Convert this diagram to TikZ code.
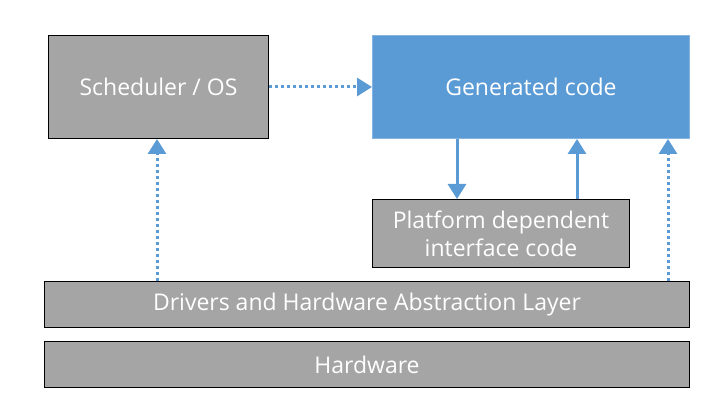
\documentclass[tikz,border=0pt]{standalone}
\usepackage{fontspec}
\setmainfont{Open Sans}
\usetikzlibrary{arrows.meta}
\definecolor{boxgray}{HTML}{A5A5A5}
\definecolor{boxblue}{HTML}{5B9BD5}
\definecolor{linkblue}{HTML}{5B9BD5}
\begin{document}
\begin{tikzpicture}[x=1pt,y=-1pt,
  graybox/.style={draw=black, line width=1pt, fill=boxgray, text=white, inner sep=0pt, anchor=north west, font=\fontsize{23}{28}\selectfont, align=center},
  bluebox/.style={draw=boxblue!75!white, line width=1pt, fill=boxblue, text=white, inner sep=0pt, anchor=north west, font=\fontsize{23}{28}\selectfont, align=center},
  link/.style={draw=linkblue, line width=3pt, -{Triangle[width=18pt,length=15pt]}},
  dottedlink/.style={link, dash pattern=on 3pt off 3pt}]
\useasboundingbox (0,0) rectangle (713,417);
\node[graybox, minimum width=220pt, minimum height=103pt] (sched) at (48,35) {Scheduler / OS};
\node[bluebox, minimum width=317pt, minimum height=103pt] (gen) at (372,35) {Generated code};
\node[graybox, minimum width=257pt, minimum height=68pt] (plat) at (372,199) {Platform dependent\\interface code};
\node[graybox, minimum width=645pt, minimum height=46pt] (hal) at (44,281) {Drivers and Hardware Abstraction Layer};
\node[graybox, minimum width=645pt, minimum height=46pt] (hw) at (44,341) {Hardware};
\draw[dottedlink] (sched.east) -- (gen.west);
\draw[link] (gen.south west) ++(85,0) coordinate (a1) -- (a1 |- plat.north);
\draw[link] (plat.north west) ++(205,0) coordinate (a2) -- (a2 |- gen.south);
\draw[dottedlink] (hal.north west) ++(113,0) coordinate (a3) -- (a3 |- sched.south);
\draw[dottedlink] (hal.north west) ++(624,0) coordinate (a4) -- (a4 |- gen.south);
\end{tikzpicture}
\end{document}
